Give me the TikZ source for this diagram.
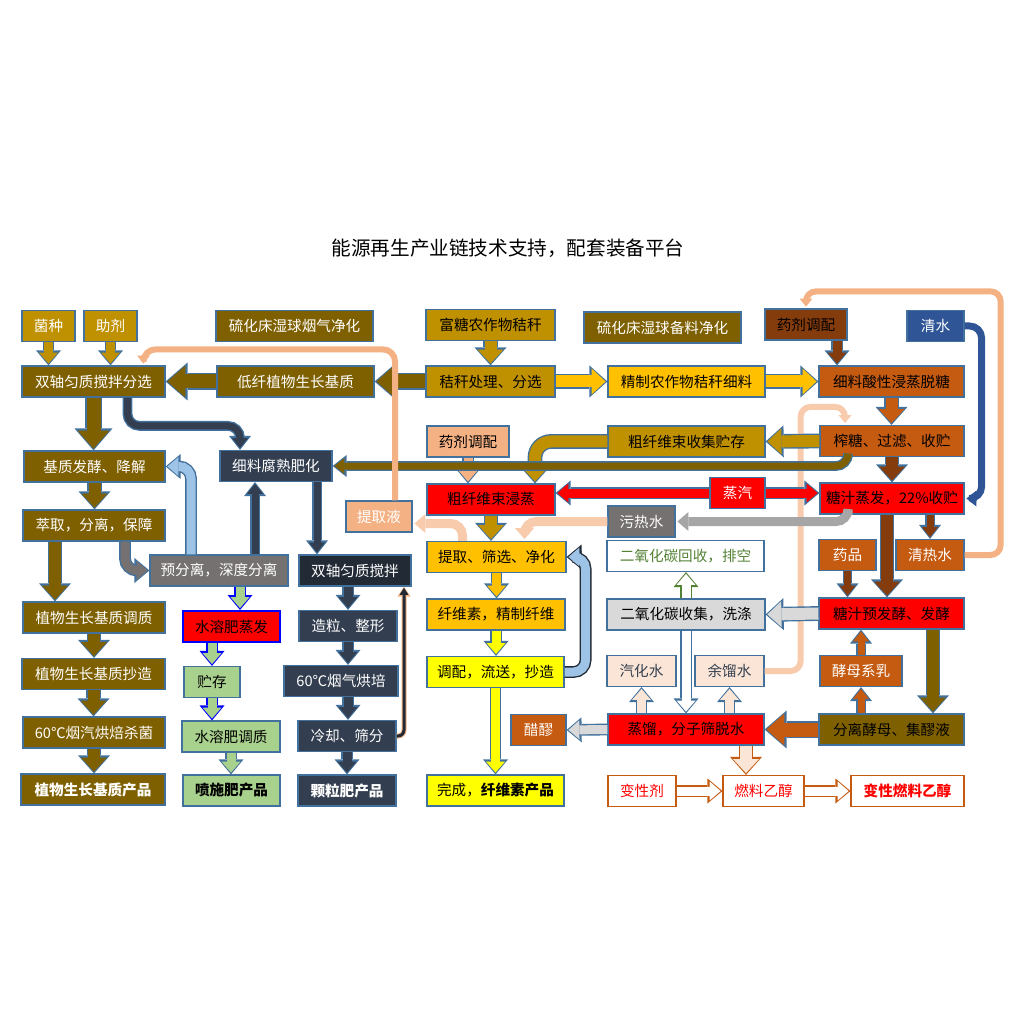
\documentclass[tikz,border=0pt]{standalone}
\usepackage{fontspec}
\setmainfont{Noto Sans CJK SC}
\usepackage{tikz}
\usetikzlibrary{arrows.meta}

\definecolor{olv}{RGB}{127,96,0}
\definecolor{gld}{RGB}{191,144,0}
\definecolor{amb}{RGB}{255,192,0}
\definecolor{ylw}{RGB}{255,255,0}
\definecolor{brn}{RGB}{132,60,12}
\definecolor{org}{RGB}{197,90,17}
\definecolor{pch}{RGB}{244,177,131}
\definecolor{lpch}{RGB}{248,203,173}
\definecolor{vpch}{RGB}{251,229,214}
\definecolor{nvy}{RGB}{51,63,80}
\definecolor{dnvy}{RGB}{34,42,53}
\definecolor{gry}{RGB}{118,113,113}
\definecolor{lgry}{RGB}{217,217,217}
\definecolor{mgry}{RGB}{166,166,166}
\definecolor{lblu}{RGB}{157,195,230}
\definecolor{blu}{RGB}{47,85,151}
\definecolor{lgrn}{RGB}{169,209,142}
\definecolor{grn}{RGB}{84,130,53}
\definecolor{bd}{RGB}{65,113,156}

\tikzset{
    box/.style={draw=bd, line width=0.6pt, inner sep=0pt, minimum height=15.5pt, text=white,
        font=\fontsize{7.3}{8}\selectfont},
    dk/.style={text=black},
    W/.style={minimum width=#1*0.5pt},
    arrL/.style={line width=7pt, shorten >=0.9pt, -{Triangle[width=16pt, length=9pt, line width=0pt]},
        preaction={draw=#1, shorten >=0pt, line width=8.4pt, -{Triangle[width=19pt, length=11pt, line width=0pt]}}},
    arrL/.default=bd,
    arrM/.style={line width=6pt, shorten >=0.9pt, -{Triangle[width=13pt, length=7pt, line width=0pt]},
        preaction={draw=#1, shorten >=0pt, line width=7.4pt, -{Triangle[width=16pt, length=9pt, line width=0pt]}}},
    arrM/.default=bd,
    arrS/.style={line width=4.5pt, shorten >=0.9pt, -{Triangle[width=9.5pt, length=5.5pt, line width=0pt]},
        preaction={draw=#1, shorten >=0pt, line width=5.9pt, -{Triangle[width=12.5pt, length=7.5pt, line width=0pt]}}},
    arrS/.default=bd,
    arrT/.style={line width=3.5pt, shorten >=0.9pt, -{Triangle[width=8pt, length=5pt, line width=0pt]},
        preaction={draw=#1, shorten >=0pt, line width=4.9pt, -{Triangle[width=11pt, length=7pt, line width=0pt]}}},
    arrT/.default=bd,
    arrN/.style={line width=3pt, shorten >=0.9pt, -{Triangle[width=6.5pt, length=4pt, line width=0pt]},
        preaction={draw=#1, shorten >=0pt, line width=4.4pt, -{Triangle[width=9.5pt, length=6pt, line width=0pt]}}},
    arrN/.default=bd,
    arrH/.style={line width=1.5pt, shorten >=0.6pt, -{Triangle[width=4.5pt, length=3.5pt, line width=0pt]},
        preaction={draw=#1, shorten >=0pt, line width=2.5pt, -{Triangle[width=6.5pt, length=5pt, line width=0pt]}}},
    arrH/.default=bd
}

\begin{document}
\begin{tikzpicture}[x=0.5pt, y=-0.5pt]
        \useasboundingbox (0, 0) rectangle (1019, 1020);

        \node (T) at (508, 248) {\fontsize{9.8}{11}\selectfont 能源再生产业链技术支持，配套装备平台};

        \node [box, fill=gld, W=53] (A1) at (48.5, 326) {菌种};
        \node [box, fill=gld, W=53] (A2) at (110.5, 326) {助剂};
        \node [box, fill=olv, W=143] (A3) at (93.5, 381.5) {双轴匀质搅拌分选};
        \node [box, fill=olv, W=141] (A4) at (94.5, 466.5) {基质发酵、降解};
        \node [box, fill=olv, W=142] (A5) at (94, 525.5) {萃取，分离，保障};
        \node [box, fill=olv, W=142] (A6) at (94, 617.5) {植物生长基质调质};
        \node [box, fill=olv, W=143] (A7) at (93.5, 674) {植物生长基质抄造};
        \node [box, fill=olv, W=142] (A8) at (94, 732.5) {60℃烟汽烘焙杀菌};
        \node [box, fill=olv, W=144] (A9) at (93, 789.5) {\textbf{植物生长基质产品}};

        \node [box, fill=olv, W=157] (B1) at (294.5, 326) {硫化床湿球烟气净化};
        \node [box, fill=olv, W=157] (B2) at (295.5, 381.5) {低纤植物生长基质};
        \node [box, fill=nvy, W=112] (B3) at (276, 466) {细料腐熟肥化};
        \node [box, fill=gry, W=138] (B4) at (219, 570.5) {预分离，深度分离};
        \node [box, fill=red, draw=blue, line width=1pt, dk, W=97] (B5) at (231.5, 626.5) {水溶肥蒸发};
        \node [box, fill=lgrn, dk, W=56] (B6) at (212, 682) {贮存};
        \node [box, fill=lgrn, dk, W=98] (B7) at (231, 736.5) {水溶肥调质};
        \node [box, fill=lgrn, dk, W=97] (B8) at (231.5, 790.5) {\textbf{喷施肥产品}};

        \node [box, fill=dnvy, W=112] (C1) at (355, 570.5) {双轴匀质搅拌};
        \node [box, fill=nvy, W=98] (C2) at (348, 626) {造粒、整形};
        \node [box, fill=nvy, W=114] (C3) at (341, 681) {60℃烟气烘培};
        \node [box, fill=nvy, W=98] (C4) at (347, 736) {冷却、筛分};
        \node [box, fill=nvy, W=98] (C5) at (347, 790.5) {\textbf{颗粒肥产品}};
        \node [box, fill=pch, W=66] (C6) at (379, 516.5) {提取液};

        \node [box, fill=gld, dk, W=129] (D1) at (490.5, 325) {富糖农作物秸秆};
        \node [box, fill=gld, dk, W=129] (D2) at (490.5, 381.5) {秸秆处理、分选};
        \node [box, fill=pch, dk, W=82] (D3) at (468, 441.5) {药剂调配};
        \node [box, fill=red, dk, W=128] (D4) at (491, 499.5) {粗纤维束浸蒸};
        \node [box, fill=amb, dk, W=139] (D5) at (496.5, 557) {提取、筛选、净化};
        \node [box, fill=amb, dk, W=138] (D6) at (496, 614.5) {纤维素，精制纤维};
        \node [box, fill=ylw, dk, W=137] (D7) at (495.5, 672) {调配，流送，抄造};
        \node [box, fill=ylw, dk, W=137] (D8) at (495.5, 790.5) {完成，\textbf{纤维素产品}};
        \node [box, fill=org, W=55] (D9) at (538.5, 730) {醋醪};

        \node [box, fill=olv, W=157] (E1) at (662.5, 327.5) {硫化床湿球备料净化};
        \node [box, fill=amb, dk, W=157] (E2) at (686.5, 381.5) {精制农作物秸秆细料};
        \node [box, fill=gld, dk, W=157] (E3) at (686.5, 441.5) {粗纤维束收集贮存};
        \node [box, fill=red, W=55] (E4) at (737.5, 493) {蒸汽};
        \node [box, fill=gry, W=67] (E5) at (641.5, 521.5) {污热水};
        \node [box, fill=white, text=grn, W=157] (E6) at (685.5, 556) {二氧化碳回收，排空};
        \node [box, fill=lgry, dk, W=158] (E7) at (686, 614.5) {二氧化碳收集，洗涤};
        \node [box, fill=vpch, text=nvy, W=69] (E8) at (641.5, 671) {汽化水};
        \node [box, fill=vpch, text=nvy, W=69] (E9) at (729.5, 671) {余馏水};
        \node [box, fill=red, dk, W=156] (E10) at (686, 729.5) {蒸馏，分子筛脱水};
        \node [box, fill=white, draw=org, text=red, W=68] (E11) at (642, 791) {变性剂};
        \node [box, fill=white, draw=org, text=red, W=81] (E12) at (763.5, 791) {燃料乙醇};

        \node [box, fill=brn, dk, W=82] (F1) at (806, 324.5) {药剂调配};
        \node [box, fill=blu, W=57] (F2) at (935.5, 326) {清水};
        \node [box, fill=org, dk, W=145] (F3) at (891.5, 381.5) {细料酸性浸蒸脱糖};
        \node [box, fill=org, dk, W=144] (F4) at (892, 441) {榨糖、过滤、收贮};
        \node [box, fill=red, dk, W=144] (F5) at (892, 498.5) {糖汁蒸发，22\%收贮};
        \node [box, fill=org, W=57] (F6) at (847.5, 555) {药品};
        \node [box, fill=org, W=68] (F7) at (930, 555) {清热水};
        \node [box, fill=red, dk, W=145] (F8) at (891.5, 613.5) {糖汁预发酵、发酵};
        \node [box, fill=org, W=82] (F9) at (861, 671) {酵母系乳};
        \node [box, fill=olv, dk, W=145] (F10) at (891.5, 729.5) {分离酵母、集醪液};
        \node [box, fill=white, draw=org, text=red, W=113] (F11) at (907.5, 791) {\textbf{变性燃料乙醇}};

        \draw [arrN=none, draw=lpch, rounded corners=5pt] (E9.east) -- ++(36, 0) |- ([xshift=-23.5pt, yshift=9pt]F4.north) -- ([xshift=-23.5pt]F4.north);
        \draw [arrN=none, draw=pch, rounded corners=5pt] (F7.east) -- ++(36, 0) |- ([yshift=8.5pt]F1.north) -- (F1.north);

        \draw [arrS, draw=gld] (A1.south) -- (A1.south |- A3.north);
        \draw [arrS, draw=gld] (A2.south) -- (A2.south |- A3.north);
        \draw [arrL, draw=olv] (D2.west) -- (B2.east);
        \draw [arrL, draw=olv] (B2.west) -- (A3.east);
        \draw [arrL, draw=olv] (A3.south) -- (A3.south |- A4.north);
        \draw [arrM, draw=olv] (A4.south) -- (A4.south |- A5.north);
        \draw [arrM, draw=olv] ([xshift=-19.5pt]A5.south) -- ([xshift=-19.5pt]A5.south |- A6.north);
        \draw [arrM, draw=olv] (A6.south) -- (A6.south |- A7.north);
        \draw [arrM, draw=olv] (A7.south) -- (A7.south |- A8.north);
        \draw [arrM, draw=olv] (A8.south) -- (A8.south |- A9.north);
        \draw [arrS, draw=gry, rounded corners=6pt] ([xshift=15.5pt]A5.south) |- (B4.west);
        \draw [arrS, draw=lblu, rounded corners=6pt] ([xshift=-14pt]B4.north) |- (A4.east);
        \draw [arrT, draw=nvy, rounded corners=6pt] ([xshift=17pt]A3.south) |- ([xshift=-18pt, yshift=12pt]B3.north) -- ([xshift=-18pt]B3.north);
        \draw [arrT, draw=nvy] ([xshift=18pt]B4.north) -- ([xshift=18pt]B4.north |- B3.south);
        \draw [arrT, draw=nvy] ([xshift=20.5pt]B3.south) -- ([xshift=20.5pt]B3.south |- C1.north);
        \draw [arrS=blue, draw=lgrn] ([xshift=10.5pt]B4.south) -- ([xshift=10.5pt]B4.south |- B5.north);
        \draw [arrS=blue, draw=lgrn] (B6.north |- B5.south) -- (B6.north);
        \draw [arrS=blue, draw=lgrn] (B6.south) -- (B6.south |- B7.north);
        \draw [arrS, draw=lgrn] (B7.south) -- (B7.south |- B8.north);
        \draw [arrS, draw=nvy] (C2.north |- C1.south) -- (C2.north);
        \draw [arrS, draw=nvy] (C2.south) -- (C2.south |- C3.north);
        \draw [arrS, draw=nvy] (C2.south |- C3.south) -- (C2.south |- C4.north);
        \draw [arrS, draw=nvy] (C4.south) -- (C4.south |- C5.north);
        \draw [arrH=pch, draw=dnvy, rounded corners=3pt] (C4.east) -| ([xshift=24.5pt]C1.south);

        \draw [arrM, draw=gld] (D1.south) -- (D1.south |- D2.north);
        \draw [arrM, draw=amb] (D2.east) -- (E2.west);
        \draw [arrM, draw=amb] (E2.east) -- (F3.west);
        \draw [arrS, draw=brn] ([xshift=15.5pt]F1.south) -- ([xshift=15.5pt]F1.south |- F3.north);
        \draw [arrT=none, draw=blu, rounded corners=6pt] (F2.east) -- ++(17, 0) |- (F5.east);
        \draw [arrM, draw=org] (F3.south) -- (F3.south |- F4.north);
        \draw [arrM, draw=gld] (F4.west) -- (E3.east);
        \draw [arrM, draw=brn] (F4.south) -- (F4.south |- F5.north);
        \draw [arrM, draw=gld, rounded corners=8pt] (E3.west) -| ([xshift=22pt]D4.north);
        \draw [arrS, draw=pch] (D3.south) -- (D3.south |- D4.north);
        \draw [arrT, draw=olv, rounded corners=6pt] ([xshift=-22pt]F4.south) |- (B3.east);
        \draw [arrS, draw=red] (E4.west) -- (E4.west -| D4.east);
        \draw [arrS, draw=red] (E4.east) -- (E4.east -| F5.west);
        \draw [arrS=none, draw=mgry, rounded corners=6pt] ([xshift=-22pt]F5.south) |- (E5.east);
        \draw [arrS=none, draw=lpch, rounded corners=6pt] (E5.west) -| ([xshift=14pt]D5.north);
        \draw [arrS=none, draw=lpch, rounded corners=6pt] ([xshift=-17pt]D5.north) |- ([yshift=-3.5pt]C6.east);
        \draw [arrN=none, draw=pch, rounded corners=6pt] ([xshift=8pt]C6.north) |- ([xshift=25pt, yshift=8pt]A3.north) -- ([xshift=25pt]A3.north);
        \draw [arrM, draw=gld] (D4.south) -- (D4.south |- D5.north);
        \draw [arrS, draw=amb] (D5.south) -- (D5.south |- D6.north);
        \draw [arrS, draw=ylw] (D6.south) -- (D6.south |- D7.north);
        \draw [arrS=dnvy, draw=lblu, rounded corners=6pt] (D7.east) -- ++(21, 0) |- (D5.east);
        \draw [arrS, draw=ylw] (D7.south) -- (D7.south |- D8.north);

        \draw [arrT, draw=brn] (F7.north |- F5.south) -- (F7.north);
        \draw [arrM, draw=brn] ([xshift=-2.5pt]F5.south) -- ([xshift=-2.5pt]F5.south |- F8.north);
        \draw [arrT, draw=brn] (F6.south) -- (F6.south |- F8.north);
        \draw [arrM, draw=lgry] (F8.west) -- (E7.east);
        \draw [arrS=grn, draw=white] (E7.north) -- (E7.north |- E6.south);
        \draw [arrS, draw=white] (E7.south) -- (E7.south |- E10.north);
        \draw [arrS, draw=vpch] (E8.south |- E10.north) -- (E8.south);
        \draw [arrS, draw=vpch] (E9.south |- E10.north) -- (E9.south);
        \draw [arrS, draw=lgry] (E10.west) -- (D9.east);
        \draw [arrM=org, draw=vpch] ([xshift=30pt]E10.south) -- ([xshift=30pt]E10.south |- E12.north);
        \draw [arrS=org, draw=white] (E11.east) -- (E12.west);
        \draw [arrS=org, draw=white] (E12.east) -- (F11.west);
        \draw [arrM, draw=olv] ([xshift=20.75pt]F8.south) -- ([xshift=20.75pt]F8.south |- F10.north);
        \draw [arrT, draw=org] (F9.south |- F10.north) -- (F9.south);
        \draw [arrT, draw=org] (F9.north) -- (F9.north |- F8.south);
        \draw [arrL, draw=org] (F10.west) -- (E10.east);
\end{tikzpicture}
\end{document}
